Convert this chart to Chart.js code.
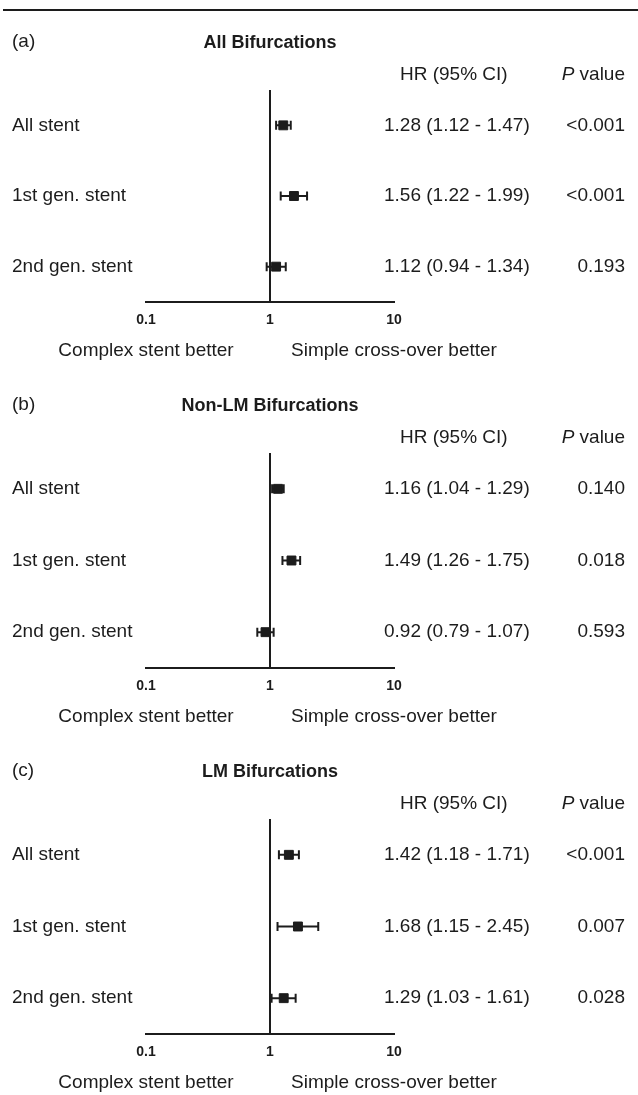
<!DOCTYPE html>
<html>
<head>
<meta charset="utf-8">
<script src="https://cdn.jsdelivr.net/npm/chart.js@4.4.1/dist/chart.umd.min.js"></script>
<style>
  html, body { margin:0; padding:0; background:#fff; }
  #page { position:relative; width:638px; height:1095px; overflow:hidden; }
  #page canvas { position:absolute; left:0; }
</style>
</head>
<body>
<div id="page">
  <canvas id="panelA" width="638" height="363" style="top:0"></canvas>
  <canvas id="panelB" width="638" height="366" style="top:363px"></canvas>
  <canvas id="panelC" width="638" height="366" style="top:729px"></canvas>
</div>
<script>
// DATA
const rows = ['All stent', '1st gen. stent', '2nd gen. stent'];
const xTicks = [0.1, 1, 10];
const sideLabels = ['Complex stent better', 'Simple cross-over better'];

const tags = ['(a)', '(b)', '(c)'];
const titles = ['All Bifurcations', 'Non-LM Bifurcations', 'LM Bifurcations'];

const hrA = [1.28, 1.56, 1.12];
const loA = [1.12, 1.22, 0.94];
const hiA = [1.47, 1.99, 1.34];
const pA  = ['<0.001', '<0.001', '0.193'];

const hrB = [1.16, 1.49, 0.92];
const loB = [1.04, 1.26, 0.79];
const hiB = [1.29, 1.75, 1.07];
const pB  = ['0.140', '0.018', '0.593'];

const hrC = [1.42, 1.68, 1.29];
const loC = [1.18, 1.15, 1.03];
const hiC = [1.71, 2.45, 1.61];
const pC  = ['<0.001', '0.007', '0.028'];

const ink = '#1c1c1c';
const FONT = '"Liberation Sans", Arial, Helvetica, sans-serif';

// text around the plot: tag, title, table columns, direction labels
const tablePlugin = {
  id: 'table',
  afterDraw(chart, args, o) {
    const {ctx, scales:{x, y}, chartArea} = chart;
    ctx.save();
    ctx.fillStyle = ink;
    ctx.strokeStyle = ink;
    ctx.textBaseline = 'middle';

    if (o.rule) {
      ctx.lineWidth = 2;
      ctx.beginPath(); ctx.moveTo(3, 10); ctx.lineTo(638, 10); ctx.stroke();
    }

    ctx.font = '19px ' + FONT;
    ctx.textAlign = 'left';
    ctx.fillText(o.tag, 12, 42);

    ctx.font = 'bold 18px ' + FONT;
    ctx.textAlign = 'center';
    ctx.fillText(o.title, x.getPixelForValue(1), 43);

    // column headers
    ctx.font = '19px ' + FONT;
    ctx.textAlign = 'left';
    ctx.fillText('HR (95% CI)', 400, 75);
    ctx.textAlign = 'right';
    ctx.fillText(' value', 625, 75);
    const vw = ctx.measureText(' value').width;
    ctx.font = 'italic 19px ' + FONT;
    ctx.fillText('P', 625 - vw, 75);

    // table values
    ctx.font = '19px ' + FONT;
    rows.forEach((r, i) => {
      const py = y.getPixelForValue(i);
      ctx.textAlign = 'left';
      ctx.fillText(o.hr[i].toFixed(2) + ' (' + o.lo[i].toFixed(2) + ' - ' + o.hi[i].toFixed(2) + ')', 384, py);
      ctx.textAlign = 'right';
      ctx.fillText(o.p[i], 625, py);
    });

    // direction labels under the axis
    ctx.textAlign = 'center';
    ctx.fillText(sideLabels[0], x.getPixelForValue(0.1), chartArea.bottom + 49);
    ctx.fillText(sideLabels[1], x.getPixelForValue(10), chartArea.bottom + 49);
    ctx.restore();
  }
};

function makePanel(id, k, hr, lo, hi, p) {
  const datasets = [{
    data: hr.map((v, i) => ({x: v, y: rows[i]})),
    pointStyle: 'rect',
    pointRadius: 6.3,
    backgroundColor: ink,
    borderColor: ink,
    borderWidth: 1
  }];
  rows.forEach((r, i) => {
    datasets.push({
      data: [{x: lo[i], y: r}, {x: hi[i], y: r}],
      showLine: true,
      borderColor: ink,
      borderWidth: 2,
      pointStyle: 'line',
      rotation: 90,
      pointRadius: 4.5,
      pointBorderWidth: 2,
      pointBorderColor: ink,
      backgroundColor: ink
    });
  });

  return new Chart(document.getElementById(id), {
    type: 'scatter',
    data: { datasets },
    plugins: [tablePlugin],
    options: {
      responsive: false,
      animation: false,
      events: [],
      devicePixelRatio: 1,
      layout: { padding: { top: 90, left: 12, right: 244, bottom: 31 } },
      plugins: {
        legend: { display: false },
        tooltip: { enabled: false },
        table: { tag: tags[k], title: titles[k], hr, lo, hi, p, rule: k === 0 }
      },
      scales: {
        x: {
          type: 'logarithmic',
          min: 0.1,
          max: 10,
          afterBuildTicks: s => { s.ticks = xTicks.map(v => ({value: v})); },
          afterFit: s => { s.height = 30; },
          ticks: {
            callback: v => String(v),
            color: ink,
            padding: 10,
            maxRotation: 0,
            autoSkip: false,
            font: { family: FONT, size: 14, weight: 'bold' }
          },
          grid: {
            drawTicks: false,
            lineWidth: 2,
            color: c => (c.tick && c.tick.value === 1) ? ink : 'rgba(0,0,0,0)'
          },
          border: { display: true, color: ink, width: 2 }
        },
        y: {
          type: 'category',
          labels: rows,
          offset: true,
          afterFit: s => { s.width = 134; },
          ticks: {
            crossAlign: 'far',
            color: ink,
            font: { family: FONT, size: 19 }
          },
          grid: { display: false },
          border: { display: false }
        }
      }
    }
  });
}

makePanel('panelA', 0, hrA, loA, hiA, pA);
makePanel('panelB', 1, hrB, loB, hiB, pB);
makePanel('panelC', 2, hrC, loC, hiC, pC);
</script>
</body>
</html>
